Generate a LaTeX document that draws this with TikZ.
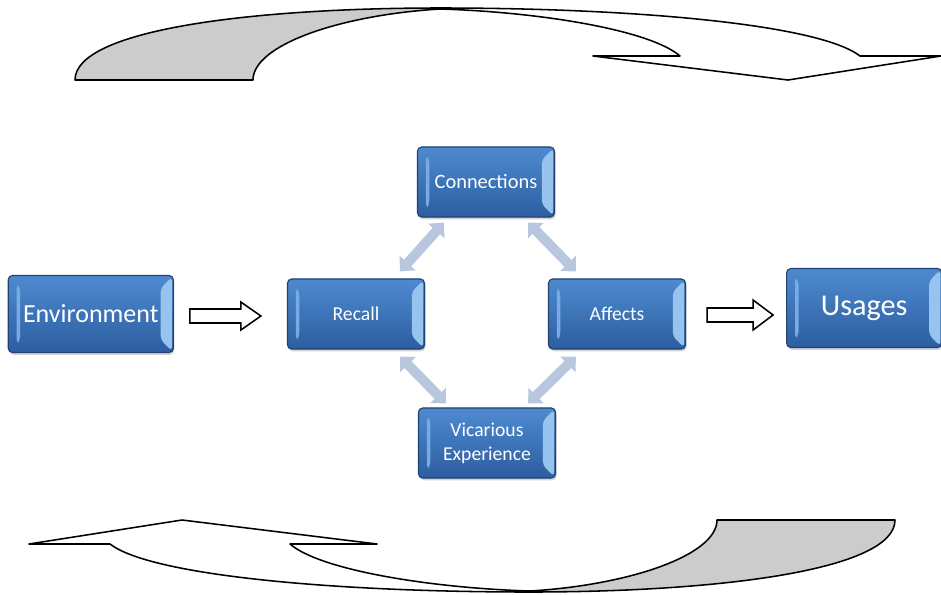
\documentclass[tikz,border=0pt]{standalone}
\usepackage{fontspec}
\newfontfamily\boxfont{Carlito}
\usetikzlibrary{positioning,calc,arrows.meta,shadows}

\definecolor{boxtop}{RGB}{78,138,208}
\definecolor{boxbot}{RGB}{44,94,160}
\definecolor{boxedge}{RGB}{33,66,112}
\definecolor{bevelL}{RGB}{120,170,228}
\definecolor{bevelR}{RGB}{150,196,238}
\definecolor{linkblue}{RGB}{184,198,222}
\definecolor{swooshgrey}{RGB}{204,204,204}

\begin{document}
\begin{tikzpicture}[x=0.025cm, y=-0.025cm,
box/.style={rectangle, rounded corners=3pt, draw=boxedge, line width=0.8pt,
  top color=boxtop, bottom color=boxbot, text=white, align=center,
  minimum width=3.425cm, minimum height=1.75cm, inner sep=2pt,
  drop shadow={opacity=0.35, shadow xshift=0.8pt, shadow yshift=-1.6pt},
  path picture={
    \fill[bevelR] ([shift={(-1pt,-1pt)}]path picture bounding box.north east)
      -- ([shift={(-9pt,-9pt)}]path picture bounding box.north east)
      -- ([shift={(-9pt,9pt)}]path picture bounding box.south east)
      -- ([shift={(-1pt,1pt)}]path picture bounding box.south east) -- cycle;
    \fill[bevelL] ([shift={(6pt,-6pt)}]path picture bounding box.north west)
      -- ([shift={(8.5pt,-9pt)}]path picture bounding box.north west)
      -- ([shift={(8.5pt,9pt)}]path picture bounding box.south west)
      -- ([shift={(6pt,6pt)}]path picture bounding box.south west) -- cycle;
  }},
link/.style={line width=7pt, draw=linkblue,
  {Triangle[width=15pt,length=8pt]}-{Triangle[width=15pt,length=8pt]}},
hollow/.style={draw=black, line width=1.1pt, fill=white, line join=miter},
swoosh/.style={draw=black, line width=1.1pt, line join=round},
]
\useasboundingbox (0,0) rectangle (941,594);

%Nodes
\node[box, font=\boxfont\fontsize{14}{16}\selectfont] (recall) at (356,314) {Recall};
\node[box, font=\boxfont\fontsize{14.5}{16}\selectfont] (conn) at (486,182) {Connections};
\node[box, font=\boxfont\fontsize{14}{16}\selectfont] (affects) at (617,314) {Affects};
\node[box, font=\boxfont\fontsize{14}{16}\selectfont] (vic) at (487,443) {Vicarious\\[1pt]Experience};

\node[box, font=\boxfont\fontsize{18.5}{20}\selectfont, minimum width=4.125cm, minimum height=1.925cm]
  (env) [left=2.825cm of recall] {Environment};
\node[box, font=\boxfont\fontsize{21.5}{24}\selectfont, minimum width=3.875cm, minimum height=1.975cm]
  (usage) [right=2.5cm of affects, yshift=0.15cm] {Usages};

%Lines
\draw[link] ($(conn.south west)+(27,5)$) -- ($(recall.north east)+(-25,-7)$);
\draw[link] ($(conn.south east)+(-27,5)$) -- ($(affects.north west)+(28,-7)$);
\draw[link] ($(recall.south east)+(-25,7)$) -- ($(vic.north west)+(28,-4)$);
\draw[link] ($(affects.south west)+(28,7)$) -- ($(vic.north east)+(-28,-4)$);

\draw[hollow] ($(env.east)+(16,-5)$) -- ++(51,0) -- ++(0,-7) -- ++(20,14)
  -- ++(-20,14) -- ++(0,-7) -- ++(-51,0) -- cycle;
\draw[hollow] ($(affects.east)+(21,-6)$) -- ++(46,0) -- ++(0,-8) -- ++(20,15)
  -- ++(-20,15) -- ++(0,-8) -- ++(-46,0) -- cycle;

%Curved arrows
\foreach \turn in {0,180}{
  \begin{scope}[rotate around={\turn:(485,300)}]
    \filldraw[swoosh, fill=white] (440,8) .. controls (640,8) and (820,25) .. (860,56)
      -- (941,56) -- (788,80) -- (593,56) -- (680,56)
      .. controls (650,30) and (540,12) .. (440,9) -- cycle;
    \filldraw[swoosh, fill=swooshgrey] (75,80) .. controls (75,30) and (250,8) .. (440,8)
      -- (440,9) .. controls (340,15) and (253,45) .. (253,80) -- cycle;
  \end{scope}
}
\end{tikzpicture}
\end{document}
